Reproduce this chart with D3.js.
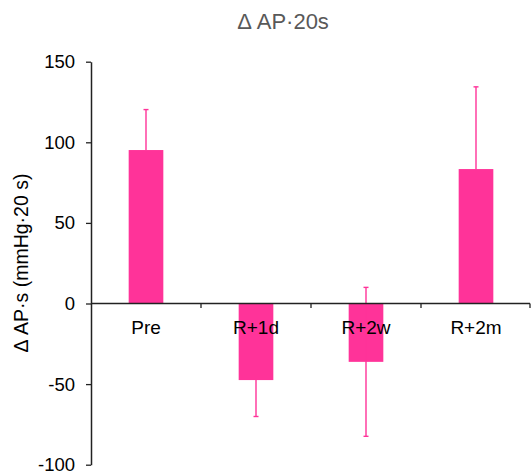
<!DOCTYPE html>
<html><head><meta charset="utf-8">
<script src="https://cdn.jsdelivr.net/npm/d3@7"></script>
<style>body{margin:0;background:#fff}</style>
</head><body>
<svg id="c" width="531" height="471"></svg>
<script>
const categories = ["Pre", "R+1d", "R+2w", "R+2m"];
const means = [95.2, -47.5, -36.2, 83.4];
const errUp = [25.1, 0, 46.2, 51.0];
const errDown = [0, 22.6, 46.2, 0];
const yTicks = [-100, -50, 0, 50, 100, 150];

const svg = d3.select("#c");
const font = "'Liberation Sans', Arial, sans-serif";
const pink = "#ff3399";

const x = d3.scaleBand().domain(categories).range([91, 531]).paddingInner(0).paddingOuter(0);
const y = d3.scaleLinear().domain([-100, 150]).range([464.7, 61.7]);

// title
svg.append("text").attr("x", 283).attr("y", 29).attr("text-anchor", "middle")
  .attr("font-family", font).attr("font-size", 22).attr("fill", "#595959").text("Δ AP·20s");

// y label
svg.append("text").attr("transform", "translate(28,263) rotate(-90)").attr("text-anchor", "middle")
  .attr("font-family", font).attr("font-size", 19.5).attr("fill", "#000").text("Δ AP·s (mmHg·20 s)");

// bars
const bw = x.bandwidth() * 0.315;
svg.append("g").selectAll("rect").data(categories).join("rect")
  .attr("x", d => x(d) + x.bandwidth() / 2 - bw / 2)
  .attr("width", bw)
  .attr("y", (d, i) => y(Math.max(0, means[i])))
  .attr("height", (d, i) => Math.abs(y(means[i]) - y(0)))
  .attr("fill", pink);

// error bars
const eg = svg.append("g").attr("stroke", pink).attr("stroke-width", 1.4);
categories.forEach((c, i) => {
  const cx = x(c) + x.bandwidth() / 2;
  const top = means[i] + errUp[i], bot = means[i] - errDown[i];
  eg.append("line").attr("x1", cx).attr("x2", cx).attr("y1", y(top)).attr("y2", y(bot));
  if (errUp[i] > 0) eg.append("line").attr("x1", cx - 2.5).attr("x2", cx + 2.5).attr("y1", y(top)).attr("y2", y(top));
  if (errDown[i] > 0) eg.append("line").attr("x1", cx - 2.5).attr("x2", cx + 2.5).attr("y1", y(bot)).attr("y2", y(bot));
});

// y axis
const ya = svg.append("g").attr("transform", "translate(91,0)")
  .call(d3.axisLeft(y).tickValues(yTicks).tickSize(5).tickPadding(11).tickSizeOuter(0).tickFormat(d => String(d)));
ya.select(".domain").attr("stroke", "#222").attr("stroke-width", 1.5);
ya.selectAll(".tick line").attr("stroke", "#222").attr("stroke-width", 1.3);
ya.selectAll("text").attr("font-family", font).attr("font-size", 18.5).attr("fill", "#000");

// x axis at zero
const xb = d3.scaleLinear().domain([0, categories.length]).range([91, 531]);
const xa = svg.append("g").attr("transform", `translate(0,${y(0)})`);
xa.append("line").attr("x1", 91).attr("x2", 530).attr("stroke", "#222").attr("stroke-width", 1.5);
xa.selectAll(".tk").data(d3.range(1, categories.length + 1)).join("line")
  .attr("x1", d => Math.min(xb(d), 530)).attr("x2", d => Math.min(xb(d), 530))
  .attr("y1", 0).attr("y2", 4.5).attr("stroke", "#222").attr("stroke-width", 1.3);
xa.selectAll(".lbl").data(categories).join("text")
  .attr("x", d => x(d) + x.bandwidth() / 2).attr("y", 30.5)
  .attr("text-anchor", "middle").attr("font-family", font).attr("font-size", 19).attr("fill", "#000")
  .text(d => d);
</script>
</body></html>
